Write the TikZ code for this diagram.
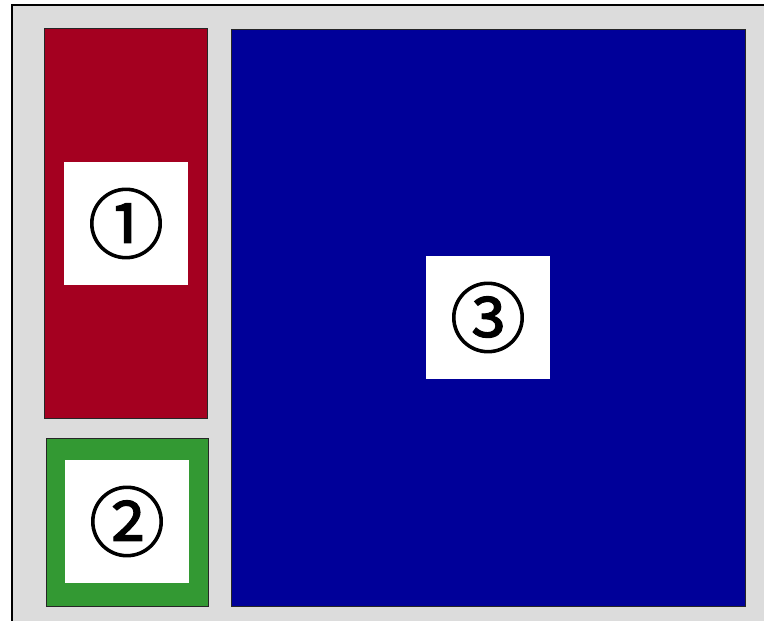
\documentclass[tikz,border=0pt]{standalone}
\usepackage{fontspec}
\newfontfamily\symfont{Noto Sans CJK SC}[FakeBold=1.5]
\usetikzlibrary{positioning}
\definecolor{bggray}{HTML}{DCDCDC}
\definecolor{panelred}{HTML}{A40020}
\definecolor{panelgreen}{HTML}{339933}
\definecolor{panelblue}{HTML}{000099}

\begin{document}
\begin{tikzpicture}[x=1pt,y=-1pt,
  panel/.style={draw=black!85,line width=0.8pt,inner sep=0pt},
  tag/.style={fill=white,inner sep=0pt,minimum width=124pt,minimum height=123pt,
    font=\symfont\fontsize{76}{76}\selectfont}]
  \useasboundingbox (0,0) rectangle (764,621);
  \fill[bggray] (12,5) rectangle (764,621);
  \draw[line width=1.4pt] (12,621) -- (12,5) -- (764,5);
  % panels
  \node[panel,fill=panelred,minimum width=163pt,minimum height=390pt] (redpanel) at (125.5,223) {};
  \node[panel,fill=panelgreen,minimum width=162pt,minimum height=168pt] (greenpanel) at (127,522) {};
  \node[panel,fill=panelblue,minimum width=514pt,minimum height=577pt] (bluepanel) at (488,317.5) {};
  % labels
  \node[tag] (tagone) at (126,223.5) {\raisebox{2pt}{①}};
  \node[tag] (tagtwo) at (127,521.5) {\raisebox{2pt}{②}};
  \node[tag] (tagthree) at (488,317.5) {\raisebox{2pt}{③}};
\end{tikzpicture}
\end{document}
